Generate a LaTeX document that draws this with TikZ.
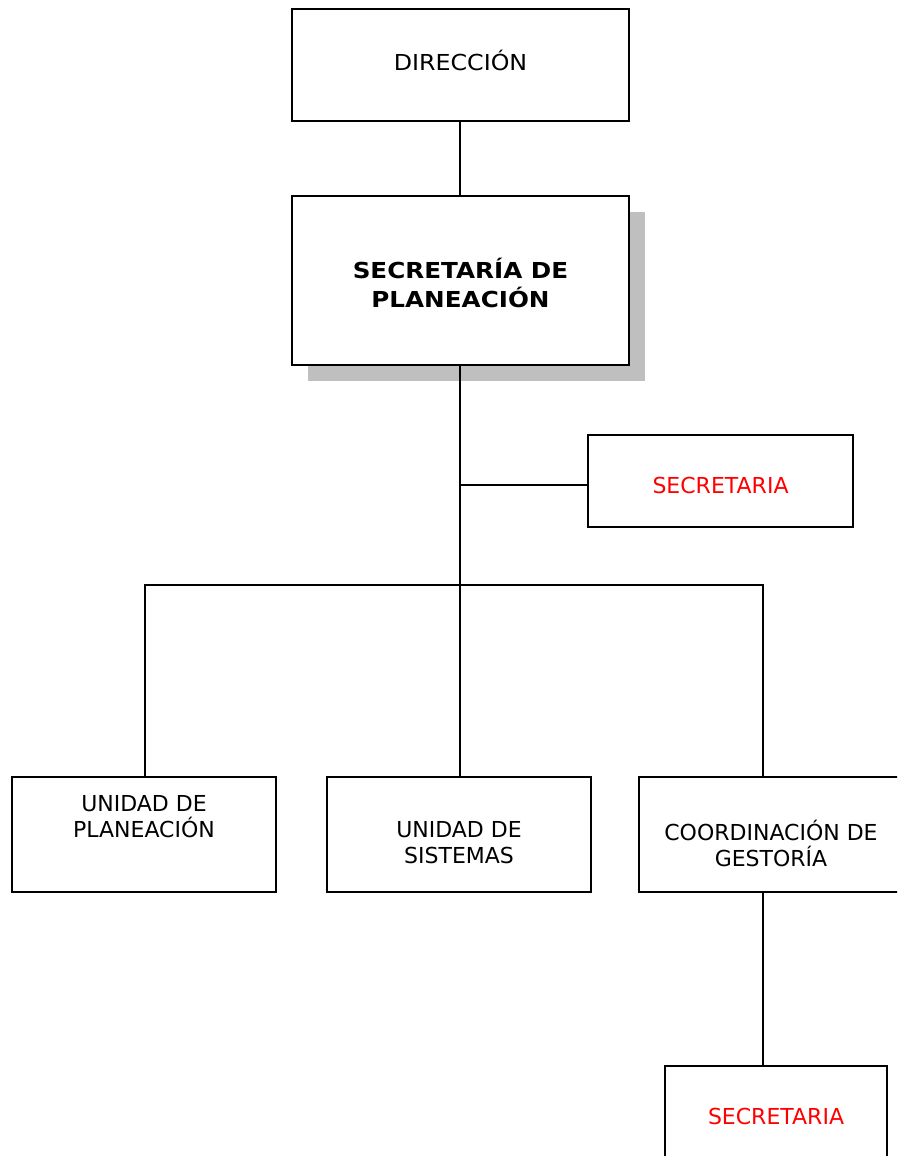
\documentclass[tikz,border=0pt]{standalone}
\usepackage{fontspec}
\setmainfont{DejaVu Sans}
\begin{document}
\begin{tikzpicture}[x=1pt,y=-1pt,
  box/.style={draw=black,line width=1.8pt,fill=white,inner sep=0pt},
  conn/.style={line width=1.8pt},
  txt/.style={align=center,font=\fontsize{22}{26}\selectfont,inner sep=0pt},
  red/.style={text=red}]
\useasboundingbox (0,0) rectangle (897,1156);
\clip (0,0) rectangle (897,1156);
% shadow
\fill[gray!50] (308,212) rectangle (645,381);
\node[box,minimum width=337pt,minimum height=112pt] (dir) at (460.5,65) {};
\node[txt] (dirt) at (460.5,60) {\scalebox{1.08}[1]{DIRECCIÓN}};
\node[box,minimum width=337pt,minimum height=169pt] (sec) at (460.5,280.5) {};
\node[txt,font=\fontsize{22}{29}\selectfont\bfseries] (sect) at (460.5,283) {\scalebox{1.12}[1]{SECRETARÍA DE}\\\scalebox{1.12}[1]{PLANEACIÓN}};
\node[box,minimum width=265pt,minimum height=92pt] (s1) at (720.5,481) {};
\node[txt,red] (s1t) at (720.5,485) {SECRETARIA};
\node[box,minimum width=264pt,minimum height=115pt] (up) at (144,834.5) {};
\node[txt] (upt) at (144,817) {UNIDAD DE\\PLANEACIÓN};
\node[box,minimum width=264pt,minimum height=115pt] (us) at (459,834.5) {};
\node[txt] (ust) at (459,843) {UNIDAD DE\\SISTEMAS};
\node[box,minimum width=264pt,minimum height=115pt] (cg) at (771,834.5) {};
\node[txt] (cgt) at (771,843) {COORDINACIÓN DE\\GESTORÍA};
\node[box,minimum width=222pt,minimum height=110pt] (s2) at (776,1121) {};
\node[txt,red] (s2t) at (776,1116) {SECRETARIA};
\coordinate (j1) at (460,485);
\coordinate (bm) at (460,585);
\coordinate (bl) at (145,585);
\coordinate (br) at (763,585);
\draw[conn] (dir.south -| bm) -- (sec.north -| bm);
\draw[conn] (sec.south -| bm) -- (us.north -| bm);
\draw[conn] (j1) -- (j1 -| s1.west);
\draw[conn] (up.north -| bl) -- (bl) -- (br) -- (br |- cg.north);
\draw[conn] (br |- cg.south) -- (br |- s2.north);
\end{tikzpicture}
\end{document}
